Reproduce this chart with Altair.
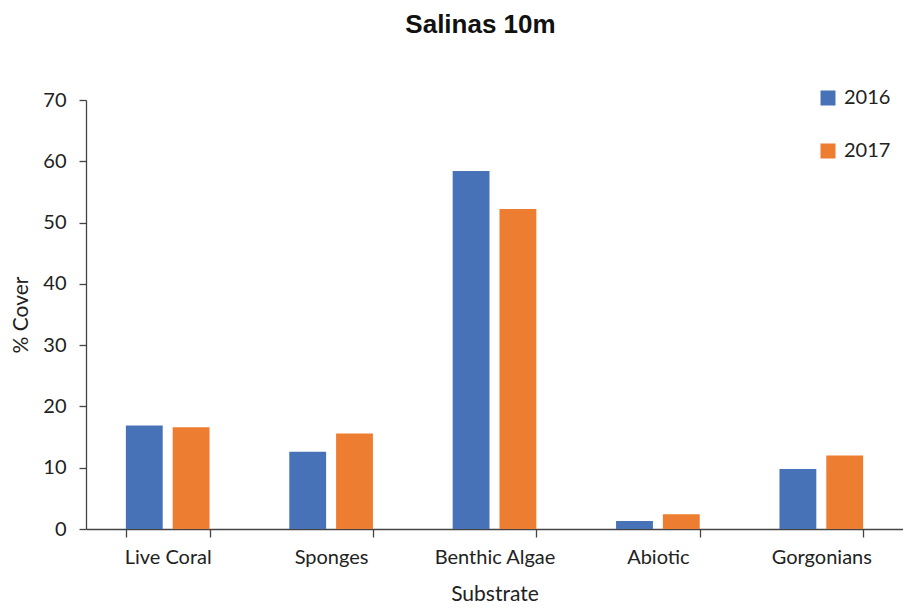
import altair as alt
import pandas as pd

categories = ["Live Coral", "Sponges", "Benthic Algae", "Abiotic", "Gorgonians"]
v2016 = [16.9, 12.6, 58.4, 1.3, 9.8]
v2017 = [16.6, 15.6, 52.2, 2.4, 12.0]
years = ["2016", "2017"]
colors = ["#4872B8", "#ED7D31"]

rows = []
for c, a, b in zip(categories, v2016, v2017):
    rows.append({"Substrate": c, "Year": "2016", "Cover": a})
    rows.append({"Substrate": c, "Year": "2017", "Cover": b})
df = pd.DataFrame(rows)

lab_font = "Lato"

chart = alt.Chart(df).mark_bar().encode(
    x=alt.X("Substrate:N", sort=categories,
            scale=alt.Scale(paddingInner=0.488, paddingOuter=0.244),
            axis=alt.Axis(title="Substrate", labelAngle=0, tickBand="extent",
                          labelFontSize=20, titleFontSize=21, labelFont=lab_font, titleFont=lab_font,
                          labelColor="#222", titleColor="#222", titleFontWeight="normal",
                          domainColor="#444", tickColor="#444", tickSize=8, labelPadding=10,
                          titlePadding=16, domainWidth=1.3, tickWidth=1.3)),
    xOffset=alt.XOffset("Year:N", scale=alt.Scale(paddingInner=0.213, paddingOuter=0)),
    y=alt.Y("Cover:Q", scale=alt.Scale(domain=[0, 70]),
            axis=alt.Axis(title="% Cover", values=list(range(0, 71, 10)), grid=False,
                          labelFontSize=20, titleFontSize=21, labelFont=lab_font, titleFont=lab_font,
                          labelColor="#222", titleColor="#222", titleFontWeight="normal",
                          domainColor="#444", tickColor="#444", tickSize=7, labelPadding=13,
                          titlePadding=11, domainWidth=1.3, tickWidth=1.3)),
    color=alt.Color("Year:N", scale=alt.Scale(domain=years, range=colors),
                    legend=alt.Legend(title=None, orient="none", legendX=732, legendY=-12,
                                      symbolType="square", symbolSize=225, symbolStrokeWidth=0,
                                      labelFontSize=20, labelFont=lab_font, labelColor="#222",
                                      rowPadding=33, labelOffset=6)),
).properties(
    width=817, height=429,
    title=alt.TitleParams("Salinas 10m", font="Liberation Sans", fontSize=26, fontWeight="bold",
                          color="#111", anchor="middle", dx=-14, offset=50),
    autosize=alt.AutoSizeParams(type="none"),
    padding={"left": 78, "top": 92, "right": 0, "bottom": 78},
).configure_view(stroke=None)

chart.save("out.html", embed_options={"renderer": "svg", "actions": False})
